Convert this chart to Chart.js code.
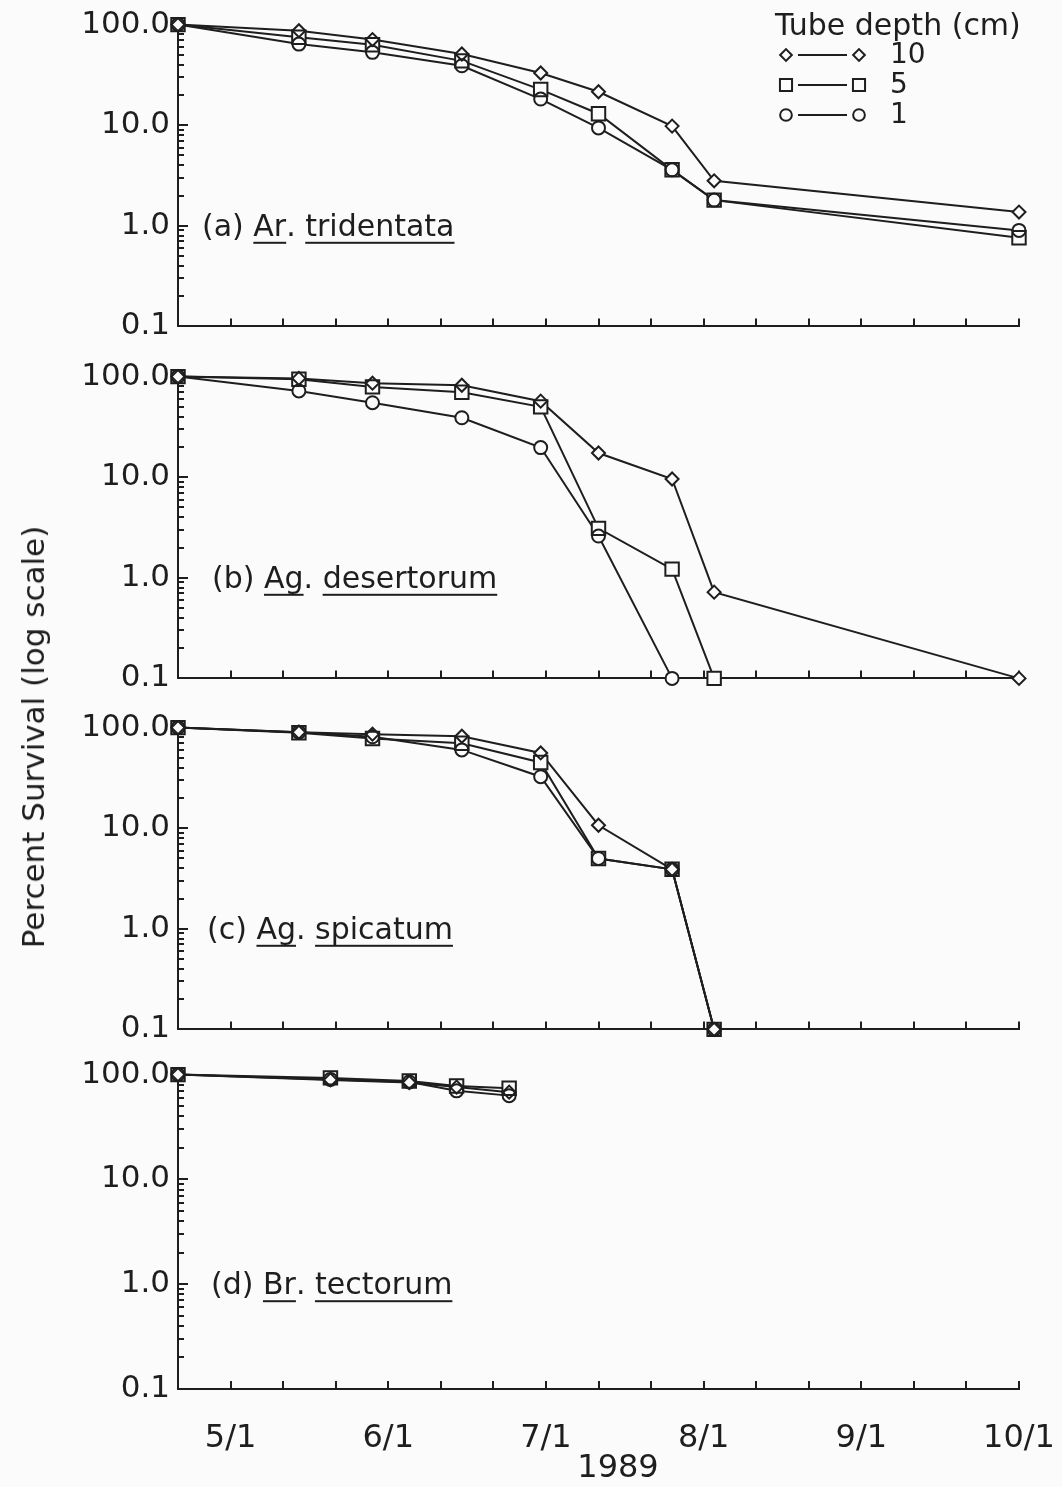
<!DOCTYPE html>
<html>
<head>
<meta charset="utf-8">
<script src="https://cdn.jsdelivr.net/npm/chart.js@4.4.0/dist/chart.umd.min.js"></script>
<style>
  body { margin: 0; background: #fbfbfb; }
  #wrap { position: relative; width: 1062px; height: 1487px; overflow: hidden; background: #fbfbfb; }
  #wrap canvas { position: absolute; left: 0; }
  #ytitle {
    position: absolute; left: 33px; top: 737px;
    transform: translate(-50%, -50%) rotate(-90deg);
    white-space: nowrap; font: 31px "DejaVu Sans", sans-serif; color: #1e1e1e;
  }
</style>
</head>
<body>
<div id="wrap">
  <canvas id="pa" width="1062" height="355"></canvas>
  <canvas id="pb" width="1062" height="355"></canvas>
  <canvas id="pc" width="1062" height="355"></canvas>
  <canvas id="pd" width="1062" height="439"></canvas>
  <div id="ytitle">Percent Survival (log scale)</div>
</div>
<script>
// sampling dates (month/day, 1989)
const datesA = ['4/21', '5/14', '5/28', '6/15', '6/30', '7/11', '7/25', '8/3', '10/1'];
const datesB = ['4/21', '5/14', '5/28', '6/15', '6/30', '7/11', '7/25', '8/3', '10/1'];
const datesC = ['4/21', '5/14', '5/28', '6/15', '6/30', '7/11', '7/25', '8/3'];
const datesD = ['4/21', '5/20', '6/5', '6/14', '6/24'];

// percent survival, by tube depth (10, 5, 1 cm)
const a10 = [100, 87, 71, 51, 33, 21.5, 9.8, 2.8, 1.37];
const a5 = [100, 75, 63, 43.6, 22.6, 13, 3.6, 1.8, 0.76];
const a1 = [100, 64, 53, 39, 18.2, 9.4, 3.6, 1.8, 0.9];

const b10 = [100, 96, 86, 82, 57, 17.4, 9.6, 0.72, 0.1];
const b5 = [100, 94, 79, 70, 50, 3.1, 1.22, 0.1];
const b1 = [100, 72, 55, 39, 19.7, 2.6, 0.1];

const c10 = [100, 90, 86, 82, 56, 10.7, 3.9, 0.1];
const c5 = [100, 89, 78, 70, 45, 5.0, 3.9, 0.1];
const c1 = [100, 90, 81, 60, 32.5, 5.0, 3.9, 0.1];

const d10 = [100, 89, 84, 76, 68];
const d5 = [100, 93, 87, 78, 74];
const d1 = [100, 90, 85, 70, 63];

const depthLabels = ['10', '5', '1'];
const monthLabels = ['5/1', '6/1', '7/1', '8/1', '9/1', '10/1'];
const decadeLabels = { '100': '100.0', '10': '10.0', '1': '1.0', '0.1': '0.1' };

// the original axis gives every month the same width, 3 ticks per month
const toX = (s) => {
    const [m, d] = s.split('/').map(Number);
    return (m - 4) * 30 + d - 21;
};
const xTickVals = [];
for (let v = toX('5/1'); v <= toX('10/1'); v += 10) xTickVals.push(v);
const yTickVals = [];
[0.1, 1, 10].forEach((dec) => {
    for (let m = 1; m <= 9; m++) yTickVals.push(+(m * dec).toFixed(1));
});
yTickVals.push(100);

const INK = '#1e1e1e';
const BG = '#fbfbfb';
const FONT = '"DejaVu Sans", sans-serif';
const PAD_TOP = 25;

const markers = [
    { shape: 'rectRot', r: 6.5 },
    { shape: 'rect', r: 9.5 },
    { shape: 'circle', r: 6.5 },
];

const panels = [
    { id: 'pa', top: 23, dates: datesA, vals: [a10, a5, a1], tag: '(a)', genus: 'Ar', species: 'tridentata', labelX: 202, legend: true },
    { id: 'pb', top: 375, dates: datesB, vals: [b10, b5, b1], tag: '(b)', genus: 'Ag', species: 'desertorum', labelX: 212 },
    { id: 'pc', top: 726, dates: datesC, vals: [c10, c5, c1], tag: '(c)', genus: 'Ag', species: 'spicatum', labelX: 207 },
    { id: 'pd', top: 1073, dates: datesD, vals: [d10, d5, d1], tag: '(d)', genus: 'Br', species: 'tectorum', labelX: 211, bottom: true },
];

function drawShape(ctx, shape, x, y, r) {
    ctx.beginPath();
    if (shape === 'rectRot') {
        ctx.moveTo(x - r, y); ctx.lineTo(x, y - r); ctx.lineTo(x + r, y); ctx.lineTo(x, y + r); ctx.closePath();
    } else if (shape === 'rect') {
        const s = r * Math.SQRT1_2;
        ctx.rect(x - s, y - s, 2 * s, 2 * s);
    } else {
        ctx.arc(x, y, r, 0, Math.PI * 2);
    }
    ctx.fillStyle = BG;
    ctx.fill();
    ctx.stroke();
}

// inward tick marks on both axes
const tickMarks = {
    id: 'tickMarks',
    beforeDatasetsDraw(chart) {
        const { ctx, chartArea, scales } = chart;
        ctx.save();
        ctx.strokeStyle = INK;
        ctx.lineWidth = 2;
        ctx.beginPath();
        yTickVals.forEach((v) => {
            if (v === 0.1) return;
            const y = Math.round(scales.y.getPixelForValue(v));
            const len = decadeLabels[String(v)] ? 10 : 6;
            ctx.moveTo(chartArea.left, y);
            ctx.lineTo(chartArea.left + len, y);
        });
        xTickVals.forEach((v) => {
            const x = Math.round(scales.x.getPixelForValue(v));
            ctx.moveTo(x, chartArea.bottom);
            ctx.lineTo(x, chartArea.bottom - 8);
        });
        ctx.stroke();
        ctx.restore();
    },
};

// panel label, legend and x title
const annot = {
    id: 'annot',
    afterDraw(chart, args, o) {
        const { ctx, chartArea, scales } = chart;
        ctx.save();
        ctx.fillStyle = INK;
        ctx.strokeStyle = INK;
        ctx.font = '30px ' + FONT;
        ctx.textBaseline = 'alphabetic';
        ctx.textAlign = 'left';
        let x = o.labelX;
        const y = scales.y.getPixelForValue(1) + 10;
        [[o.tag + ' ', false], [o.genus, true], ['. ', false], [o.species, true]].forEach(([t, u]) => {
            const w = ctx.measureText(t).width;
            ctx.fillText(t, x, y);
            if (u) ctx.fillRect(x, y + 6, w, 2);
            x += w;
        });

        if (o.legend) {
            ctx.font = '30px ' + FONT;
            ctx.fillText('Tube depth (cm)', 775, 37);
            ctx.lineWidth = 2;
            ctx.font = '28px ' + FONT;
            ctx.textBaseline = 'middle';
            depthLabels.forEach((lab, i) => {
                const ry = 57 + i * 30;
                ctx.beginPath();
                ctx.moveTo(798, ry); ctx.lineTo(847, ry);
                ctx.stroke();
                const r = markers[i].r * 0.9;
                drawShape(ctx, markers[i].shape, 786, ry, r);
                drawShape(ctx, markers[i].shape, 859, ry, r);
                ctx.fillStyle = INK;
                ctx.fillText(lab, 890, ry + 1);
            });
        }

        if (o.xTitle) {
            ctx.font = '32px ' + FONT;
            ctx.textAlign = 'center';
            ctx.textBaseline = 'middle';
            ctx.fillText(o.xTitle, 618, chartArea.bottom + 80);
        }
        ctx.restore();
    },
};

function buildDatasets(p) {
    const sets = [];
    p.vals.forEach((vals, i) => {
        const pts = vals.map((v, j) => ({ x: toX(p.dates[j]), y: v }));
        const m = markers[i];
        // line
        sets.push({ data: pts, borderColor: INK, borderWidth: 2, pointRadius: 0, order: 3, clip: false });
        // marker fill (hides the lines under the marker)
        sets.push({ data: pts, showLine: false, pointStyle: m.shape, pointRadius: m.r,
            pointBackgroundColor: BG, pointBorderColor: BG, pointBorderWidth: 0, order: 2, clip: false });
        // marker outline
        sets.push({ data: pts, showLine: false, pointStyle: m.shape, pointRadius: m.r,
            pointBackgroundColor: 'rgba(0,0,0,0)', pointBorderColor: INK, pointBorderWidth: 2, order: 1, clip: false });
    });
    return sets;
}

panels.forEach((p) => {
    const canvas = document.getElementById(p.id);
    canvas.style.top = (p.top - PAD_TOP) + 'px';
    const xHeight = p.bottom ? 98 : 14;

    new Chart(canvas.getContext('2d'), {
        type: 'line',
        data: { datasets: buildDatasets(p) },
        plugins: [tickMarks, annot],
        options: {
            responsive: false,
            animation: false,
            devicePixelRatio: 1,
            events: [],
            layout: { padding: { top: PAD_TOP, right: 43, left: 0, bottom: 0 } },
            plugins: {
                legend: { display: false },
                tooltip: { enabled: false },
                annot: { tag: p.tag, genus: p.genus, species: p.species, labelX: p.labelX,
                    legend: !!p.legend, xTitle: p.bottom ? '1989' : '' },
            },
            scales: {
                x: {
                    type: 'linear',
                    min: 0,
                    max: toX('10/1'),
                    afterFit: (s) => {
                        s.height = xHeight;
                        s.paddingLeft = 0;
                        s.paddingRight = 0;
                    },
                    afterBuildTicks: (s) => { s.ticks = xTickVals.map((v) => ({ value: v })); },
                    grid: { display: true, drawOnChartArea: false, drawTicks: false },
                    border: { display: true, color: INK, width: 2 },
                    ticks: {
                        display: !!p.bottom,
                        autoSkip: false,
                        maxRotation: 0,
                        padding: 30,
                        color: INK,
                        font: { family: FONT, size: 32 },
                        callback: (v) => {
                            const i = monthLabels.findIndex((s) => toX(s) === v);
                            return i >= 0 ? monthLabels[i] : '';
                        },
                    },
                },
                y: {
                    type: 'logarithmic',
                    min: 0.1,
                    max: 100,
                    afterFit: (s) => { s.width = 178; },
                    afterBuildTicks: (s) => { s.ticks = yTickVals.map((v) => ({ value: v })); },
                    grid: { display: true, drawOnChartArea: false, drawTicks: false },
                    border: { display: true, color: INK, width: 2 },
                    ticks: {
                        autoSkip: false,
                        padding: 8,
                        color: INK,
                        font: { family: FONT, size: 31 },
                        callback: (v) => decadeLabels[String(v)] || '',
                    },
                },
            },
        },
    });
});
</script>
</body>
</html>
